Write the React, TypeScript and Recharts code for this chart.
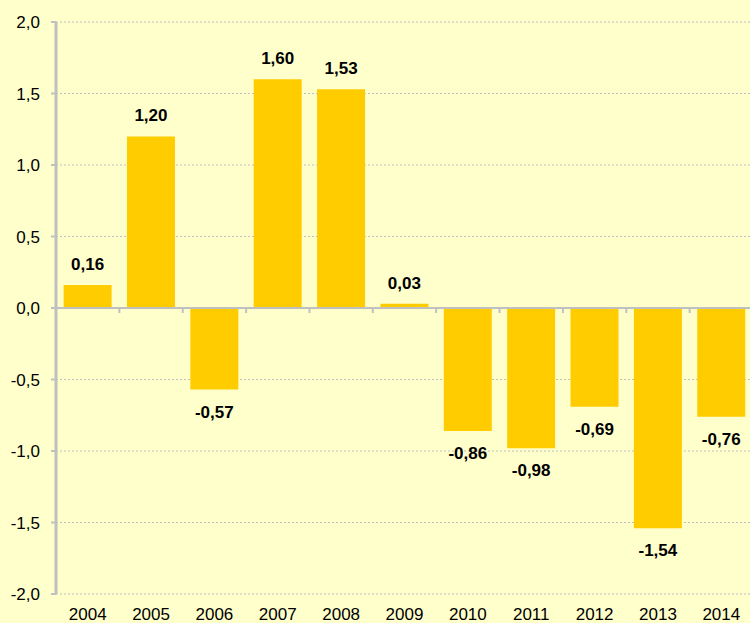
import React from 'react';
import { BarChart, Bar, XAxis, YAxis, CartesianGrid, ReferenceLine, LabelList } from 'recharts';

const years = ['2004', '2005', '2006', '2007', '2008', '2009', '2010', '2011', '2012', '2013', '2014'];
const values = [0.16, 1.2, -0.57, 1.6, 1.53, 0.03, -0.86, -0.98, -0.69, -1.54, -0.76];
const yTicks = [-2, -1.5, -1, -0.5, 0, 0.5, 1, 1.5, 2];

const data = years.map((year, i) => ({ year, value: values[i] }));

const comma = (v: number, digits: number) => v.toFixed(digits).replace('.', ',');

// little tick marks hanging under the zero line, one per category boundary
const ZeroTicks = (props: any) => {
  const vb = props.viewBox || {};
  const step = vb.width / years.length;
  const marks = [];
  for (let i = 1; i < years.length; i++) {
    const x = vb.x + step * i;
    marks.push(<line key={i} x1={x} x2={x} y1={vb.y} y2={vb.y + 5} stroke="#c0c0c0" strokeWidth={2} />);
  }
  return <g>{marks}</g>;
};

const ValueLabel = (props: any) => {
  const { x, y, width, height, value } = props;
  const top = Math.min(y, y + height);
  const bottom = Math.max(y, y + height);
  const cx = x + width / 2;
  const ty = value < 0 ? bottom + 28 : top - 15;
  return (
    <text x={cx} y={ty} textAnchor="middle" fontSize={17} fontWeight="bold" fill="#000">
      {comma(value, 2)}
    </text>
  );
};

export default function App() {
  return (
    <div style={{ position: 'absolute', left: 0, top: 0, width: 750, height: 623, overflow: 'hidden', background: '#FFFFCC', fontFamily: '"Liberation Sans", Arial, sans-serif' }}>
      <BarChart width={760} height={623} data={data} margin={{ top: 22, right: 7, left: 0, bottom: 0 }} barCategoryGap="12%">
        <CartesianGrid vertical={false} stroke="#c0c0c0" strokeDasharray="2 2" />
        <XAxis dataKey="year" axisLine={false} tickLine={false} tickSize={0} tickMargin={14} height={29} interval={0}
          tick={{ fontSize: 17, fill: '#000' }} />
        <YAxis domain={[-2, 2]} ticks={yTicks} width={56} tickSize={5} tickMargin={11}
          axisLine={{ stroke: '#c0c0c0', strokeWidth: 3 }} tickLine={{ stroke: '#c0c0c0', strokeWidth: 2 }}
          tickFormatter={(v: number) => comma(v, 1)} tick={{ fontSize: 17, fill: '#000' }} />
        <Bar dataKey="value" fill="#FFCC00" isAnimationActive={false}>
          <LabelList dataKey="value" content={<ValueLabel />} />
        </Bar>
        <ReferenceLine y={0} stroke="#c0c0c0" strokeWidth={2} label={<ZeroTicks />} />
      </BarChart>
    </div>
  );
}
